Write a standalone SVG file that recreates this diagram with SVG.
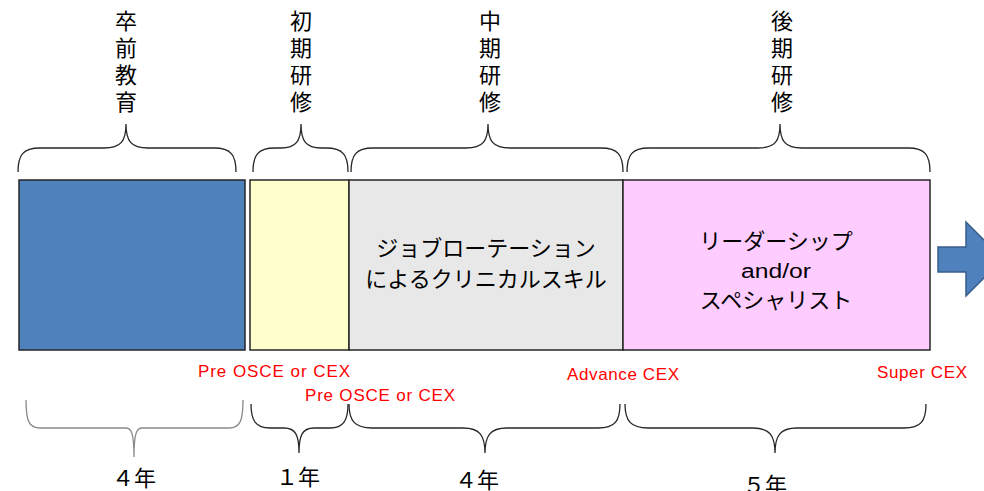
<svg xmlns="http://www.w3.org/2000/svg" width="984" height="491" viewBox="0 0 984 491">
<style>
.box{stroke:#262626;stroke-width:1.5}
.br{fill:none;stroke:#262626;stroke-width:1.3}
.brg{fill:none;stroke:#8a8a8a;stroke-width:1.3}
.jp{font-family:"Noto Sans CJK JP","Liberation Sans",sans-serif;font-size:22px;fill:#000;text-anchor:middle}
.vc{font-family:"Liberation Sans","Noto Sans CJK JP",sans-serif;font-size:22px;fill:#000;text-anchor:middle}
.lat{font-family:"Liberation Sans","Noto Sans CJK JP",sans-serif;font-size:20px;fill:#000;text-anchor:middle}
.red{font-family:"Liberation Sans",sans-serif;font-size:17px;fill:#ff0000}
</style>
<rect width="984" height="491" fill="#fff"/>
<g id="stage-undergrad">
<rect class="box" x="19" y="180" width="226" height="170" fill="#4f81bd"/>
</g>
<g id="stage-initial">
<rect class="box" x="250" y="180" width="99" height="170" fill="#ffffcc"/>
</g>
<g id="stage-middle">
<rect class="box" x="349" y="180" width="274" height="170" fill="#e8e8e8"/>
<text class="jp" x="486" y="256">ジョブローテーション</text>
<text class="jp" x="486" y="287">によるクリニカルスキル</text>
</g>
<g id="stage-late">
<rect class="box" x="623" y="180" width="307" height="170" fill="#ffccff"/>
<text class="jp" x="776" y="249">リーダーシップ</text>
<text class="lat" x="776" y="278" textLength="70" lengthAdjust="spacingAndGlyphs">and/or</text>
<text class="jp" x="776" y="308">スペシャリスト</text>
</g>
<g id="arrow">
<polygon points="938,247 966,247 966,222 1003,259 966,296 966,272 938,272" fill="#4f81bd" stroke="#385d8a" stroke-width="1.5"/>
</g>
<g id="top-labels" class="vc">
<text x="126" y="29">卒</text><text x="126" y="56">前</text><text x="126" y="83">教</text><text x="126" y="110">育</text>
<text x="301" y="29">初</text><text x="301" y="56">期</text><text x="301" y="83">研</text><text x="301" y="110">修</text>
<text x="490" y="29">中</text><text x="490" y="56">期</text><text x="490" y="83">研</text><text x="490" y="110">修</text>
<text x="782" y="29">後</text><text x="782" y="56">期</text><text x="782" y="83">研</text><text x="782" y="110">修</text>
</g>
<g id="connectors">
<path class="br" d="M18,172 C18,155 23,148 40,148 L104,148 C121,148 126,141 126,124 C126,141 131,148 148,148 L214,148 C231,148 236,155 236,172"/>
<path class="br" d="M253,172 C253,155 258,148 275,148 L281,148 C296,148 301,141 301,124 C301,141 306,148 321,148 L326,148 C343,148 348,155 348,172"/>
<path class="br" d="M351,172 C351,155 356,148 373,148 L466,148 C483,148 488,141 488,124 C488,141 493,148 510,148 L601,148 C618,148 623,155 623,172"/>
<path class="br" d="M627,172 C627,155 632,148 649,148 L758,148 C775,148 780,141 780,124 C780,141 785,148 802,148 L908,148 C925,148 930,155 930,172"/>
<path class="brg" d="M26,400 C26,421 29,428 40,428 L126,428 C131,428 134,432 134,457 C134,432 137,428 142,428 L229,428 C240,428 243,421 243,400"/>
<path class="br" d="M251,404 C251,421 256,428 270,428 L284,428 C296,428 299,436 299,453 C299,436 302,428 314,428 L330,428 C343,428 348,421 348,404"/>
<path class="br" d="M349,404 C349,421 355,428 372,428 L463,428 C480,428 485,436 485,453 C485,436 490,428 507,428 L598,428 C615,428 620,421 620,404"/>
<path class="br" d="M625,404 C625,421 631,428 648,428 L753,428 C770,428 775,436 775,453 C775,436 780,428 797,428 L904,428 C921,428 926,421 926,404"/>
</g>
<g id="assessments">
<text class="red" x="198" y="377" textLength="152">Pre OSCE or CEX</text>
<text class="red" x="305" y="401" textLength="150">Pre OSCE or CEX</text>
<text class="red" x="567" y="380" textLength="112">Advance CEX</text>
<text class="red" x="877" y="378" textLength="90">Super CEX</text>
</g>
<g id="durations" class="jp">
<text x="134" y="486">４年</text>
<text x="298" y="485">１年</text>
<text x="477" y="488">４年</text>
<text x="765" y="493">５年</text>
</g>
</svg>
